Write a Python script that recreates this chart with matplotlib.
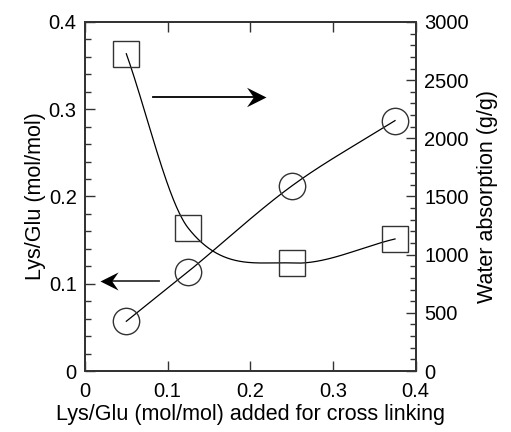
import numpy as np
import matplotlib
matplotlib.use("Agg")
import matplotlib.pyplot as plt
from matplotlib.ticker import MultipleLocator, FuncFormatter
from matplotlib.path import Path

plt.rcParams['font.family'] = ['Liberation Sans', 'DejaVu Sans']

# Lys/Glu added for cross linking (mol/mol)
lys_added = [0.05, 0.125, 0.25, 0.375]
# Lys/Glu found in the gel (mol/mol), left axis
lys_glu = [0.057, 0.114, 0.212, 0.287]
# water absorption (g/g), right axis
water_abs = [2727, 1227, 928, 1135]


def smooth(x, y, n=200):
    # Catmull-Rom style cubic Hermite through the points
    x = np.asarray(x, float)
    y = np.asarray(y, float)
    m = np.empty_like(y)
    m[1:-1] = (y[2:] - y[:-2]) / (x[2:] - x[:-2])
    m[0] = (y[1] - y[0]) / (x[1] - x[0])
    m[-1] = (y[-1] - y[-2]) / (x[-1] - x[-2])
    xs, ys = [], []
    for i in range(len(x) - 1):
        h = x[i + 1] - x[i]
        t = np.linspace(0, 1, n)
        h00 = 2 * t**3 - 3 * t**2 + 1
        h10 = t**3 - 2 * t**2 + t
        h01 = -2 * t**3 + 3 * t**2
        h11 = t**3 - t**2
        xs.append(x[i] + t * h)
        ys.append(h00 * y[i] + h10 * h * m[i] + h01 * y[i + 1] + h11 * h * m[i + 1])
    return np.concatenate(xs), np.concatenate(ys)


fig = plt.figure(figsize=(5.11, 4.32), dpi=100)
ax = fig.add_axes([0.1663, 0.1412, 0.6472, 0.8079])
ax2 = ax.twinx()

fs_tick = 14.5
fs_lab = 15.5
edge = '#333333'

sx, sy = smooth(lys_added, lys_glu)
ax.plot(sx, sy, color='black', lw=0.9, zorder=2)
ax.plot(lys_added, lys_glu, ls='none', marker='o', ms=19, mfc='none',
        mec=edge, mew=1.0, zorder=3)

wx, wy = smooth(lys_added, water_abs)
ax2.plot(wx, wy, color='black', lw=0.9, zorder=2)
ax2.plot(lys_added, water_abs, ls='none', marker='s', ms=18.5, mfc='none',
         mec=edge, mew=1.0, zorder=3)

# arrows pointing at the axis each series belongs to
head = Path([(0, 0), (-1, 0.5), (-0.65, 0), (-1, -0.5), (0, 0)],
            [Path.MOVETO, Path.LINETO, Path.LINETO, Path.LINETO, Path.CLOSEPOLY])
head_left = Path([(0, 0), (1, 0.5), (0.65, 0), (1, -0.5), (0, 0)],
                 [Path.MOVETO, Path.LINETO, Path.LINETO, Path.LINETO, Path.CLOSEPOLY])
ax.plot([0.082, 0.214], [0.314, 0.314], color='black', lw=1.3)
ax.plot([0.2195], [0.314], marker=head, ms=28, color='black', mew=0)
ax.plot([0.089, 0.024], [0.103, 0.103], color='#333333', lw=1.3)
ax.plot([0.018], [0.103], marker=head_left, ms=26, color='black', mew=0)

ax.set_xlim(0, 0.4)
ax.set_ylim(0, 0.4)
ax2.set_ylim(0, 3000)

fmt = FuncFormatter(lambda v, _: '0' if abs(v) < 1e-9 else f'{v:g}')
ax.xaxis.set_major_locator(MultipleLocator(0.1))
ax.yaxis.set_major_locator(MultipleLocator(0.1))
ax.yaxis.set_minor_locator(MultipleLocator(0.02))
ax.xaxis.set_major_formatter(fmt)
ax.yaxis.set_major_formatter(fmt)
ax2.yaxis.set_major_locator(MultipleLocator(500))
ax2.yaxis.set_minor_locator(MultipleLocator(100))

ax.tick_params(axis='x', which='both', direction='in', top=True, bottom=True,
               length=7, width=1, color=edge, labelsize=fs_tick, pad=8)
ax.tick_params(axis='y', which='major', direction='in', left=True, right=False,
               length=7, width=1, color=edge, labelsize=fs_tick, pad=6)
ax.tick_params(axis='y', which='minor', direction='in', left=True, right=False,
               length=4, width=1, color=edge)
ax2.tick_params(axis='y', which='major', direction='in', length=7, width=1,
                color=edge, labelsize=fs_tick, pad=6)
ax2.tick_params(axis='y', which='minor', direction='in', length=4, width=1,
                color=edge)

for a in (ax, ax2):
    for s in a.spines.values():
        s.set_color(edge)
        s.set_linewidth(1.3)

ax.set_xlabel('Lys/Glu (mol/mol) added for cross linking', fontsize=fs_lab, labelpad=2)
ax.set_ylabel('Lys/Glu (mol/mol)', fontsize=fs_lab, labelpad=2)
ax2.set_ylabel('Water absorption (g/g)', fontsize=fs_lab, labelpad=6)

fig.savefig('out.png', dpi=100)
